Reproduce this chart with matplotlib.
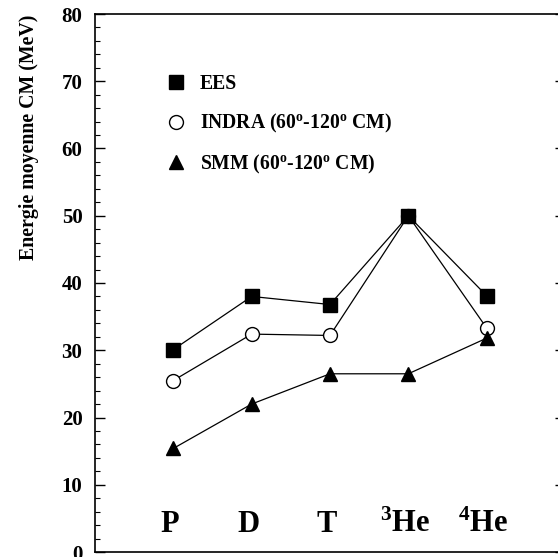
import matplotlib
matplotlib.use("Agg")
import matplotlib.pyplot as plt
from matplotlib.lines import Line2D
from matplotlib.ticker import MultipleLocator

plt.rcParams['font.family'] = ['Liberation Serif', 'DejaVu Serif']
plt.rcParams['font.weight'] = 'bold'
plt.rcParams['mathtext.fontset'] = 'custom'
plt.rcParams['mathtext.rm'] = 'Liberation Serif:bold'
plt.rcParams['mathtext.it'] = 'Liberation Serif:bold'
plt.rcParams['mathtext.bf'] = 'Liberation Serif:bold'

categories = ['P', 'D', 'T', r'$^{3}$He', r'$^{4}$He']
x_pos = [1, 2, 3, 4, 5]
ees = [30.1, 38.0, 36.8, 50.0, 38.1]
indra = [25.5, 32.4, 32.2, 50.0, 33.3]
smm = [15.4, 22.0, 26.5, 26.5, 31.8]
labels = ['EES', r'INDRA (60$^{\mathrm{o}}$-120$^{\mathrm{o}}$ CM)', r'SMM (60$^{\mathrm{o}}$-120$^{\mathrm{o}}$ CM)']
ylabel = 'Energie moyenne CM (MeV)'

W, H = 558, 557
fig = plt.figure(figsize=(W / 100, H / 100), dpi=100)
ax = fig.add_axes([95 / W, (H - 552) / H, (565 - 95) / W, (552 - 14) / H])

lw = 0.9
ax.plot(x_pos, ees, color='black', lw=lw, marker='s', ms=9.5, mfc='black', mec='black', zorder=3)
ax.plot(x_pos, indra, color='black', lw=lw, marker='o', ms=10, mfc='white', mec='black', mew=1.0, zorder=2)
ax.plot(x_pos, smm, color='black', lw=lw, marker='^', ms=10, mfc='black', mec='black', zorder=3)

for xp, c in zip(x_pos, categories):
    ax.text(xp - 0.04, 3.0, c, ha='center', va='baseline', fontsize=22, fontweight='bold')

ax.set_xlim(0, 6)
ax.set_ylim(0, 80)
ax.yaxis.set_major_locator(MultipleLocator(10))
ax.yaxis.set_minor_locator(MultipleLocator(2))
ax.set_xticks([])
ax.tick_params(axis='y', which='major', direction='in', length=7, width=1, left=True, right=True,
               labelsize=15, pad=9)
ax.tick_params(axis='y', which='minor', direction='in', length=3.5, width=0.8, left=True, right=False)
for lab in ax.get_yticklabels():
    lab.set_fontweight('bold')
for s in ax.spines.values():
    s.set_linewidth(1.2)

ax.set_ylabel(ylabel, fontsize=14.3, fontweight='bold')
ax.yaxis.set_label_coords(-0.14, 0.77)
ax.yaxis.label.set_va('center')

handles = [
    Line2D([], [], ls='none', marker='s', ms=9.5, mfc='black', mec='black'),
    Line2D([], [], ls='none', marker='o', ms=10, mfc='white', mec='black', mew=1.0),
    Line2D([], [], ls='none', marker='^', ms=10, mfc='black', mec='black'),
]
leg = ax.legend(handles, labels, loc='upper left', bbox_to_anchor=(0.152, 0.888), frameon=False,
                fontsize=14.1, handlelength=1.0, handletextpad=0.7, labelspacing=0.9,
                borderpad=0, borderaxespad=0, numpoints=1)

fig.savefig('out.png', dpi=100)
